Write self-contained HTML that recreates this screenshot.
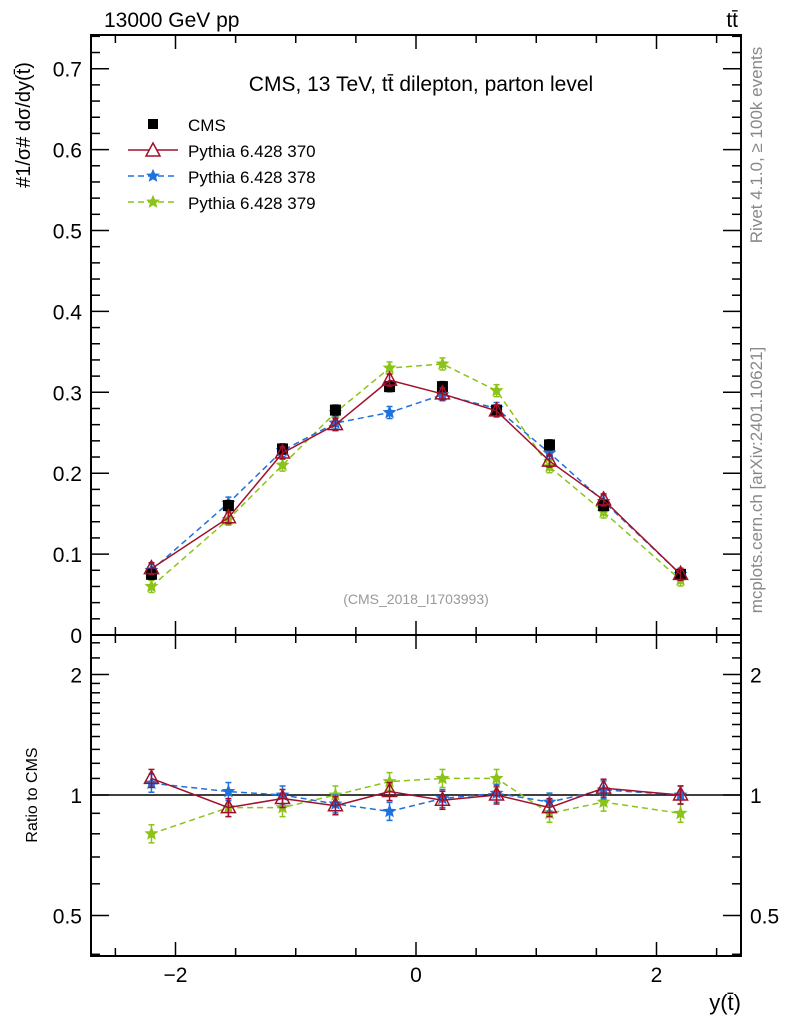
<!DOCTYPE html>
<html><head><meta charset="utf-8"><style>
body{margin:0;background:#fff}
svg{font-family:"Liberation Sans",sans-serif}
</style></head><body>
<svg id="c" width="786" height="1024" viewBox="0 0 786 1024"></svg>
<script>
const xs=[-2.2,-1.56,-1.11,-0.67,-0.22,0.22,0.67,1.11,1.56,2.2];
const cms=[0.075,0.16,0.23,0.278,0.307,0.307,0.278,0.235,0.16,0.075];
const p370=[0.082,0.145,0.225,0.26,0.315,0.298,0.277,0.215,0.167,0.075];
const p378=[0.08,0.163,0.228,0.262,0.275,0.297,0.28,0.225,0.165,0.075];
const p379=[0.06,0.143,0.21,0.275,0.33,0.335,0.302,0.208,0.152,0.068];
const r370=[1.10,0.93,0.98,0.94,1.02,0.97,1.00,0.93,1.04,1.00];
const r378=[1.07,1.02,1.00,0.95,0.91,0.98,1.01,0.96,1.03,1.00];
const r379=[0.80,0.93,0.93,1.00,1.08,1.10,1.10,0.90,0.96,0.90];
const yTicks=[0,0.1,0.2,0.3,0.4,0.5,0.6,0.7];
const xTicks=[-2,0,2];
const rTicks=[0.5,1,2];
const NS="http://www.w3.org/2000/svg",svg=document.getElementById('c');
const L=91,R=741,T=35,M=635,B=956;
const X=v=>416+v*120.25, Y=v=>635-v*809, RY=v=>795-120.5*Math.log2(v);
function el(t,a,p){const e=document.createElementNS(NS,t);for(const k in a)e.setAttribute(k,a[k]);(p||svg).appendChild(e);return e;}
function txt(x,y,s,a){const e=el('text',Object.assign({x:x,y:y,'font-size':20,fill:'#000'},a||{}));e.textContent=s;return e;}
let f=el('rect',{x:L,y:T,width:R-L,height:M-T,fill:'none',stroke:'#000','stroke-width':2});

f=el('rect',{x:L,y:M,width:R-L,height:B-M,fill:'none',stroke:'#000','stroke-width':2});

for(let v=-2.5;v<=2.51;v+=0.5){const big=Math.abs(v%2)<1e-6||Math.abs(Math.abs(v)-2)<1e-6;const l=big?14:8;const x=X(v);
 for(const [a,b] of [[T,1],[M,-1],[M,1],[B,-1]])el('line',{x1:x,x2:x,y1:a,y2:a+b*l,stroke:'#000','stroke-width':1.5});}
xTicks.forEach(v=>{const t=txt(X(v),982,v<0?'\u2212'+Math.abs(v):String(v),{'text-anchor':'middle','font-size':21});
});
for(let i=0;i<=37;i++){const v=i*0.02,y=Y(v);if(y<T)break;const big=i%5==0;const l=big?18:9;
 el('line',{x1:L,x2:L+l,y1:y,y2:y,stroke:'#000','stroke-width':1.5});el('line',{x1:R,x2:R-l,y1:y,y2:y,stroke:'#000','stroke-width':1.5});}
yTicks.forEach(v=>{const t=txt(82,Y(v)+8,v===0?'0':String(v),{'text-anchor':'end','font-size':21});
});
const minors=[0.4,0.6,0.7,0.8,0.9,1.1,1.2,1.3,1.4,1.5,1.6,1.7,1.8,1.9,2.2,2.4];
minors.forEach(v=>{const y=RY(v);el('line',{x1:L,x2:L+9,y1:y,y2:y,stroke:'#000','stroke-width':1.5});el('line',{x1:R,x2:R-9,y1:y,y2:y,stroke:'#000','stroke-width':1.5});});
rTicks.forEach(v=>{const y=RY(v);el('line',{x1:L,x2:L+18,y1:y,y2:y,stroke:'#000','stroke-width':1.5});el('line',{x1:R,x2:R-18,y1:y,y2:y,stroke:'#000','stroke-width':1.5});
 let t=txt(82,y+8,String(v),{'text-anchor':'end','font-size':21});
 t=txt(750,y+8,String(v),{'font-size':21});});
el('line',{x1:L,x2:R,y1:RY(1),y2:RY(1),stroke:'#000','stroke-width':1.5});
function star(x,y,c,r){let p='';for(let i=0;i<10;i++){const a=-Math.PI/2+i*Math.PI/5,rr=i%2?r*0.45:r;p+=(x+rr*Math.cos(a))+','+(y+rr*Math.sin(a))+' ';}return el('polygon',{points:p,fill:c,stroke:c,'stroke-width':1});}
function series(vals,fy,color,dash,kind,name,err){
 const g=el('g',{});
 const pts=vals.map((v,i)=>[X(xs[i]),fy(v)]);
 if(kind!=='sq')el('polyline',{points:pts.map(p=>p.join(',')).join(' '),fill:'none',stroke:color,'stroke-width':1.5,'stroke-dasharray':dash},g);
 pts.forEach(([x,y],i)=>{const e=err;el('line',{x1:x,x2:x,y1:y-e,y2:y+e,stroke:color,'stroke-width':1.5},g);
  el('line',{x1:x-3,x2:x+3,y1:y-e,y2:y-e,stroke:color,'stroke-width':1.5},g);el('line',{x1:x-3,x2:x+3,y1:y+e,y2:y+e,stroke:color,'stroke-width':1.5},g);
  let m;if(kind==='sq')m=el('rect',{x:x-5.5,y:y-5.5,width:11,height:11,fill:'#000'},g);
  else if(kind==='tri')m=el('polygon',{points:`${x},${y-8} ${x-7},${y+5} ${x+7},${y+5}`,fill:'none',stroke:color,'stroke-width':1.5},g);
  else {m=star(x,y,color,6);g.appendChild(m);}
  });
}
series(p379,Y,'#8bc31a','6,4','star','pythia-379-line',6);
series(p378,Y,'#1f72dd','6,4','star','pythia-378-line',6);
series(cms,Y,'#000','','sq','cms-data',5);
series(p370,Y,'#a0102a','','tri','pythia-370-line',6);
series(r379,RY,'#8bc31a','6,4','star','ratio-379-line',9);
series(r378,RY,'#1f72dd','6,4','star','ratio-378-line',9);
series(r370,RY,'#a0102a','','tri','ratio-370-line',9);
const lg=el('g',{});
el('rect',{x:148,y:119,width:10,height:10,fill:'#000'},lg);
el('line',{x1:128,x2:178,y1:150,y2:150,stroke:'#a0102a','stroke-width':1.5},lg);
el('polygon',{points:'153,143 146,156 160,156',fill:'#fff',stroke:'#a0102a','stroke-width':1.5},lg);
el('line',{x1:128,x2:178,y1:176,y2:176,stroke:'#1f72dd','stroke-width':1.5,'stroke-dasharray':'6,4'},lg);lg.appendChild(star(153,176,'#1f72dd',6));
el('line',{x1:128,x2:178,y1:202,y2:202,stroke:'#8bc31a','stroke-width':1.5,'stroke-dasharray':'6,4'},lg);lg.appendChild(star(153,202,'#8bc31a',6));
[['CMS',131],['Pythia 6.428 370',157],['Pythia 6.428 378',183],['Pythia 6.428 379',209]].forEach(([s,y])=>{const t=txt(188,y,s,{'font-size':17});lg.appendChild(t);});
let t=txt(104,27,'13000 GeV pp',{'font-size':21});
t=txt(738,27,'tt\u0304',{'font-size':21,'text-anchor':'end'});
t=txt(421,91,'CMS, 13 TeV, tt\u0304 dilepton, parton level',{'font-size':21,'text-anchor':'middle'});
t=txt(416,604,'(CMS_2018_I1703993)',{'font-size':14,fill:'#999','text-anchor':'middle'});
t=txt(741,1010,'y(t\u0304)',{'font-size':22,'text-anchor':'end'});
t=txt(0,0,'#1/σ# dσ/dy(t\u0304)',{'font-size':20,transform:'translate(30,125) rotate(-90)','text-anchor':'middle'});
t=txt(0,0,'Ratio to CMS',{'font-size':16,transform:'translate(37,795) rotate(-90)','text-anchor':'middle'});
t=txt(0,0,'Rivet 4.1.0, \u2265 100k events',{'font-size':17,fill:'#888',transform:'translate(762,145) rotate(-90)','text-anchor':'middle'});
t=txt(0,0,'mcplots.cern.ch [arXiv:2401.10621]',{'font-size':17,fill:'#888',transform:'translate(762,480) rotate(-90)','text-anchor':'middle'});
</script>
</body></html>
